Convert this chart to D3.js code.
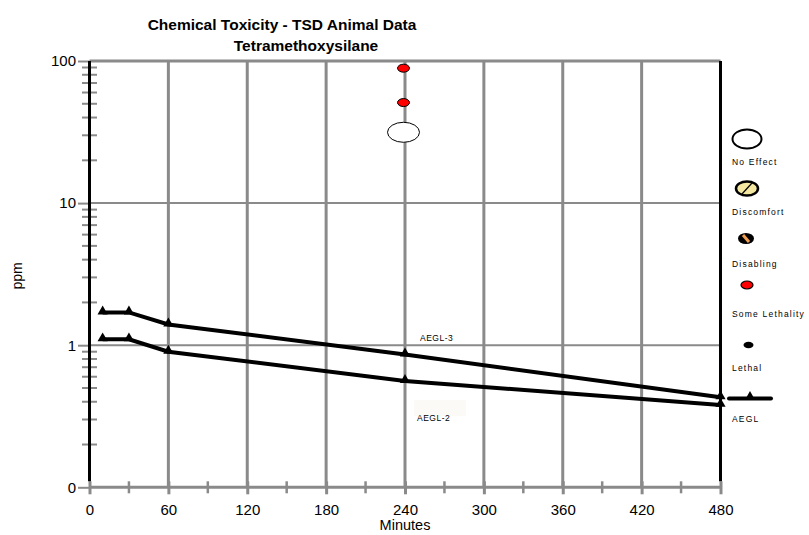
<!DOCTYPE html>
<html><head><meta charset="utf-8">
<script src="https://cdn.jsdelivr.net/npm/d3@7"></script>
<style>body{margin:0;background:#fff;} svg{display:block;font-family:"Liberation Sans",Arial,sans-serif;}</style>
</head><body>
<svg id="c" width="809" height="535"></svg>
<script>
const titleLines = ["Chemical Toxicity - TSD Animal Data", "Tetramethoxysilane"];
const xTicks = [0, 60, 120, 180, 240, 300, 360, 420, 480];
const xMinorTicks = [30, 90, 150, 210, 270, 330, 390, 450];
const yMajor = [0.1, 1, 10, 100];
const yMajorLabels = ["0", "1", "10", "100"];
const aeglTimes = [10, 30, 60, 240, 480];
const aegl3 = [1.7, 1.7, 1.4, 0.86, 0.43];
const aegl2 = [1.1, 1.1, 0.9, 0.56, 0.38];
const someLethalityPts = [{t: 240, ppm: 89}, {t: 240, ppm: 51}];
const noEffectPts = [{t: 240, ppm: 31.5}];
const legendItems = ["No Effect", "Discomfort", "Disabling", "Some Lethality", "Lethal", "AEGL"];

const svg = d3.select("#c");
const x = d3.scaleLinear().domain([0, 480]).range([89.5, 720.5]);
const y = d3.scaleLog().domain([0.1, 100]).range([487.3, 61]);
const GRID = "#8a8a8a";

// minor y ticks
const yMinor = [];
[0.1, 1, 10].forEach(d => { for (let k = 2; k <= 9; k++) yMinor.push(d * k); });

// vertical grid lines
svg.append("g").selectAll("line").data(xTicks.filter(d => d > 0 && d < 480)).join("line")
  .attr("x1", d => x(d)).attr("x2", d => x(d)).attr("y1", y(100)).attr("y2", y(0.1))
  .attr("stroke", GRID).attr("stroke-width", 3);
// horizontal grid lines
svg.append("g").selectAll("line").data([1, 10]).join("line")
  .attr("x1", x(0)).attr("x2", x(480)).attr("y1", d => y(d)).attr("y2", d => y(d))
  .attr("stroke", GRID).attr("stroke-width", 2);
svg.append("line").attr("x1", x(0)).attr("x2", x(480)).attr("y1", y(100)).attr("y2", y(100))
  .attr("stroke", GRID).attr("stroke-width", 3);

// y axis (left)
const yAxis = d3.axisLeft(y).tickValues(yMajor).tickSize(11.5).tickPadding(2)
  .tickFormat((d, i) => yMajorLabels[i]);
const gy = svg.append("g").attr("transform", `translate(${x(0)},0)`).call(yAxis);
gy.select(".domain").remove();
gy.selectAll(".tick line").attr("stroke", GRID).attr("stroke-width", 2);
gy.selectAll(".tick text").attr("font-size", 15).attr("fill", "#000")
  .attr("font-family", "Liberation Sans, Arial, sans-serif");
svg.append("g").selectAll("line").data(yMinor).join("line")
  .attr("x1", x(0) - 7.5).attr("x2", x(0) + 7.5).attr("y1", d => y(d)).attr("y2", d => y(d))
  .attr("stroke", GRID).attr("stroke-width", 2);

// x axis
const xAxis = d3.axisBottom(x).tickValues(xTicks).tickSize(7).tickPadding(10);
const gx = svg.append("g").attr("transform", `translate(0,${y(0.1)})`).call(xAxis);
gx.select(".domain").remove();
gx.selectAll(".tick line").attr("stroke", GRID).attr("stroke-width", 3).attr("y1", -6);
gx.selectAll(".tick text").attr("font-size", 15).attr("fill", "#000")
  .attr("font-family", "Liberation Sans, Arial, sans-serif");
svg.append("line").attr("x1", x(0)).attr("x2", x(480)).attr("y1", y(0.1)).attr("y2", y(0.1))
  .attr("stroke", GRID).attr("stroke-width", 3);
svg.append("g").selectAll("line").data(xMinorTicks).join("line")
  .attr("x1", d => x(d)).attr("x2", d => x(d)).attr("y1", y(0.1) - 6).attr("y2", y(0.1) + 6)
  .attr("stroke", GRID).attr("stroke-width", 2.5);

// black left/right axis lines
[0, 480].forEach(t => svg.append("line").attr("x1", x(t)).attr("x2", x(t))
  .attr("y1", y(100)).attr("y2", y(0.1) - 6).attr("stroke", "#000").attr("stroke-width", 3));

// titles
svg.append("text").attr("x", 282).attr("y", 30).attr("text-anchor", "middle")
  .attr("font-size", 15.5).attr("font-weight", "bold").text(titleLines[0]);
svg.append("text").attr("x", 306).attr("y", 51).attr("text-anchor", "middle")
  .attr("font-size", 15.5).attr("font-weight", "bold").text(titleLines[1]);
svg.append("text").attr("x", 405).attr("y", 530).attr("text-anchor", "middle")
  .attr("font-size", 14.5).text("Minutes");
svg.append("text").attr("transform", "translate(22,276) rotate(-90)").attr("text-anchor", "middle")
  .attr("font-size", 14).text("ppm");

// AEGL lines
const line = d3.line().x(d => x(d[0])).y(d => y(d[1]));
const tri = d3.symbol().type(d3.symbolTriangle).size(45);
[aegl3, aegl2].forEach(series => {
  const pts = aeglTimes.map((t, i) => [t, series[i]]);
  svg.append("path").attr("d", line(pts)).attr("fill", "none").attr("stroke", "#000").attr("stroke-width", 4);
  svg.append("g").selectAll("path").data(pts).join("path")
    .attr("d", tri).attr("transform", d => `translate(${x(d[0])},${y(d[1]) - 1})`).attr("fill", "#000");
});
svg.append("rect").attr("x", 414).attr("y", 400).attr("width", 52).attr("height", 16).attr("fill", "#fbfaf6");
svg.append("text").attr("x", 420).attr("y", 341).attr("font-size", 8.5).attr("letter-spacing", 0.5).text("AEGL-3");
svg.append("text").attr("x", 417).attr("y", 421).attr("font-size", 8.5).attr("letter-spacing", 0.5).text("AEGL-2");

// data points
svg.append("g").selectAll("ellipse").data(noEffectPts).join("ellipse")
  .attr("cx", d => x(d.t) - 1.5).attr("cy", d => y(d.ppm)).attr("rx", 16).attr("ry", 10)
  .attr("fill", "#fff").attr("stroke", "#000").attr("stroke-width", 1);
svg.append("g").selectAll("ellipse").data(someLethalityPts).join("ellipse")
  .attr("cx", d => x(d.t) - 1.5).attr("cy", d => y(d.ppm)).attr("rx", 6).attr("ry", 4)
  .attr("fill", "#ff0000").attr("stroke", "#000").attr("stroke-width", 1);

// legend
const lg = svg.append("g");
const lx = 747;
lg.append("ellipse").attr("cx", lx).attr("cy", 139).attr("rx", 14.5).attr("ry", 9.5)
  .attr("fill", "#fff").attr("stroke", "#000").attr("stroke-width", 2);
lg.append("ellipse").attr("cx", lx).attr("cy", 188.5).attr("rx", 11).attr("ry", 7)
  .attr("fill", "#f4e7a1").attr("stroke", "#000").attr("stroke-width", 2.5);
lg.append("line").attr("x1", lx - 5).attr("y1", 194).attr("x2", lx + 5).attr("y2", 183)
  .attr("stroke", "#000").attr("stroke-width", 1.2);
lg.append("ellipse").attr("cx", lx - 1).attr("cy", 238.5).attr("rx", 8).attr("ry", 5.5)
  .attr("fill", "#000");
lg.append("line").attr("x1", lx - 4).attr("y1", 235).attr("x2", lx + 2).attr("y2", 242)
  .attr("stroke", "#f0a050").attr("stroke-width", 3);
lg.append("ellipse").attr("cx", lx).attr("cy", 285).attr("rx", 6).attr("ry", 4)
  .attr("fill", "#ff0000").attr("stroke", "#000").attr("stroke-width", 1.2);
lg.append("ellipse").attr("cx", lx + 1.5).attr("cy", 345).attr("rx", 5).attr("ry", 3.2)
  .attr("fill", "#000");
lg.append("line").attr("x1", 729).attr("x2", 771).attr("y1", 398.5).attr("y2", 398.5)
  .attr("stroke", "#000").attr("stroke-width", 4).attr("stroke-linecap", "round");
lg.append("path").attr("d", tri).attr("transform", "translate(750,397)").attr("fill", "#000");
const ly = [165, 215, 267, 317, 371, 422];
lg.selectAll("text.l").data(legendItems).join("text").attr("class", "l")
  .attr("x", 732).attr("y", (d, i) => ly[i]).attr("font-size", 8.5).attr("letter-spacing", 1.2)
  .attr("fill", "#000").text(d => d);
</script>
</body></html>
